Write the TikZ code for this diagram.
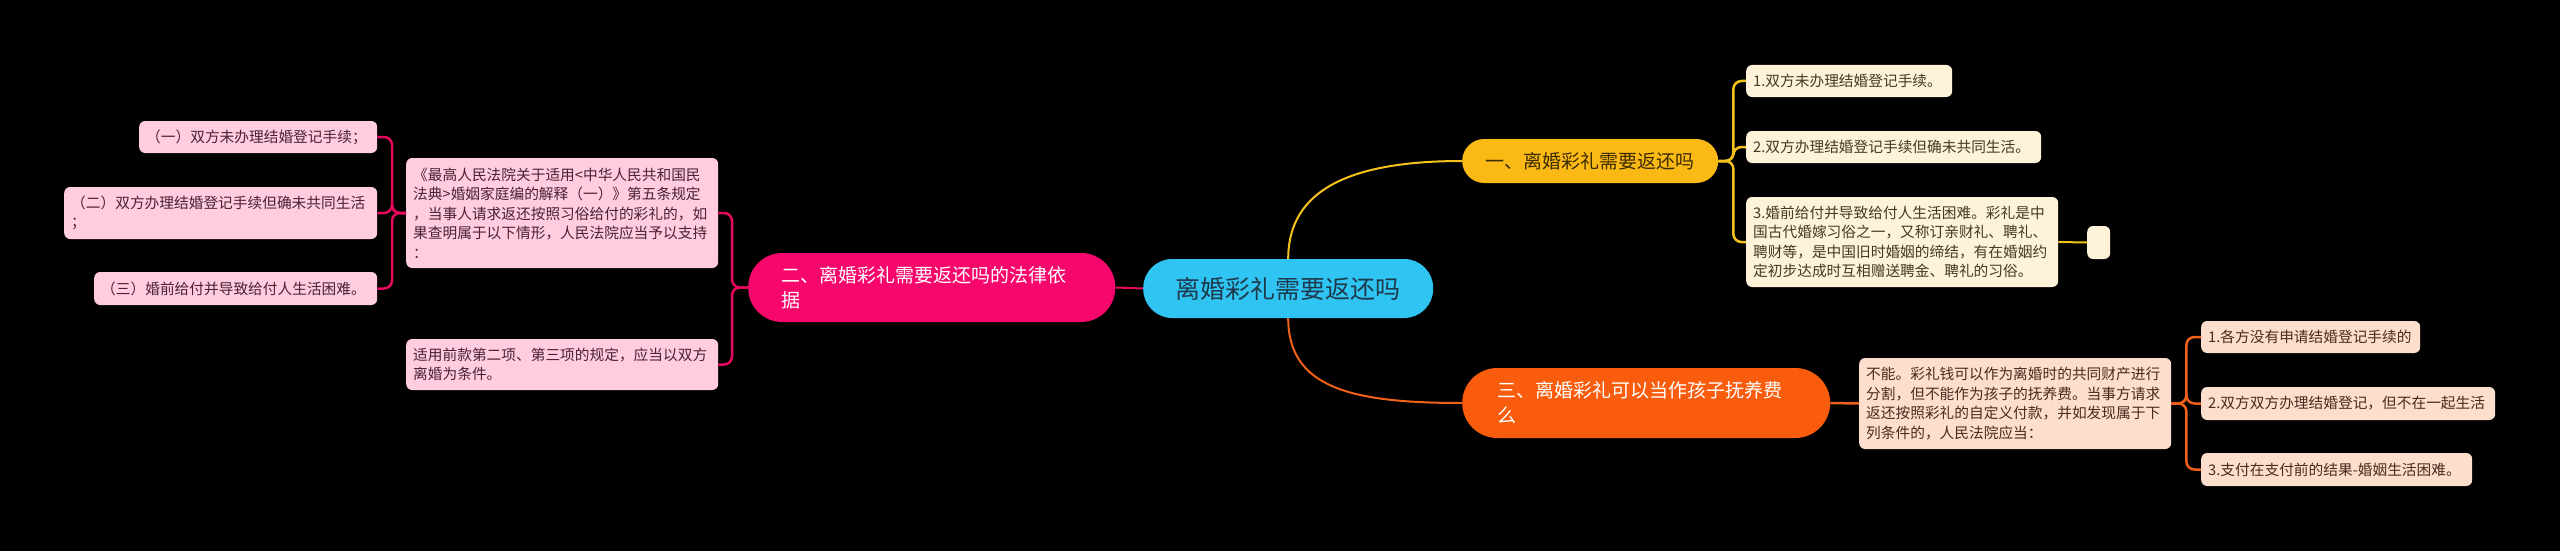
\documentclass[tikz,border=0pt]{standalone}
\usepackage{fontspec}
\setmainfont{Noto Sans CJK SC}
\usetikzlibrary{calc}

\definecolor{rootblue}{HTML}{2FC4F2}
\definecolor{rootink}{HTML}{1E3A4C}
\definecolor{gold}{HTML}{FAB915}
\definecolor{goldink}{HTML}{3D2B00}
\definecolor{goldline}{HTML}{F5C21C}
\definecolor{cream}{HTML}{FEF3D8}
\definecolor{creamink}{HTML}{45391F}
\definecolor{rose}{HTML}{F7066B}
\definecolor{roseline}{HTML}{E8095F}
\definecolor{blush}{HTML}{FFCCE0}
\definecolor{blushink}{HTML}{4A2233}
\definecolor{tangerine}{HTML}{F95C0C}
\definecolor{tangline}{HTML}{F0621A}
\definecolor{peach}{HTML}{FDDDCC}
\definecolor{peachink}{HTML}{4A2A1C}

\begin{document}
\begin{tikzpicture}[x=1pt, y=-1pt,
    leaf/.style={anchor=west, rounded corners=6pt, inner xsep=7pt, inner ysep=0pt,
        align=left, font=\fontsize{14.7}{19.5}\selectfont},
    topic/.style={anchor=west, inner ysep=0pt, align=left,
        font=\fontsize{19}{25}\selectfont},
    branch/.style={line width=2pt},
    fork/.style={line width=2.5pt, rounded corners=8pt}]
    \fill[black] (0,0) rectangle (2560,551);
    \useasboundingbox (0,0) rectangle (2560,551);

    \node[topic, fill=rootblue, text=rootink, minimum width=290pt, minimum height=59pt,
        rounded corners=29pt, align=center, font=\fontsize{25}{30}\selectfont]
        (root) at (1143,288.5) {离婚彩礼需要返还吗};

    \node[topic, fill=gold, text=goldink, minimum width=256pt, minimum height=44pt,
        rounded corners=22pt, align=center] (topicA) at (1462,161) {一、离婚彩礼需要返还吗};
    \node[topic, fill=rose, text=white, text width=301pt, inner xsep=33pt, minimum height=69pt,
        rounded corners=34pt] (topicB) at (748,287.5) {二、离婚彩礼需要返还吗的法律依\\据};
    \node[topic, fill=tangerine, text=white, text width=298pt, inner xsep=35pt, minimum height=70pt,
        rounded corners=35pt] (topicC) at (1462,403) {三、离婚彩礼可以当作孩子抚养费\\么};

    \node[leaf, fill=cream, text=creamink, text width=192pt, minimum height=32pt]
        (ansA) at (1746,81) {1.双方未办理结婚登记手续。};
    \node[leaf, fill=cream, text=creamink, text width=281pt, minimum height=32pt]
        (ansB) at (1746,147) {2.双方办理结婚登记手续但确未共同生活。};
    \node[leaf, fill=cream, text=creamink, text width=298pt, minimum height=90pt]
        (ansC) at (1746,242) {3.婚前给付并导致给付人生活困难。彩礼是中\\国古代婚嫁习俗之一，又称订亲财礼、聘礼、\\聘财等，是中国旧时婚姻的缔结，有在婚姻约\\定初步达成时互相赠送聘金、聘礼的习俗。};
    \node[leaf, fill=cream, inner xsep=0pt, minimum width=23pt, minimum height=33pt]
        (blank) at (2087,242.5) {};

    \node[leaf, fill=blush, text=blushink, text width=298pt, minimum height=110pt]
        (lawBasis) at (406,213) {《最高人民法院关于适用<中华人民共和国民\\法典>婚姻家庭编的解释（一）》第五条规定\\，当事人请求返还按照习俗给付的彩礼的，如\\果查明属于以下情形，人民法院应当予以支持\\：};
    \node[leaf, fill=blush, text=blushink, text width=298pt, minimum height=51pt]
        (lawNote) at (406,364.5) {适用前款第二项、第三项的规定，应当以双方\\离婚为条件。};
    \node[leaf, fill=blush, text=blushink, text width=224pt, minimum height=32pt]
        (lawA) at (139,137) {（一）双方未办理结婚登记手续；};
    \node[leaf, fill=blush, text=blushink, text width=299pt, minimum height=52pt]
        (lawB) at (64,213) {（二）双方办理结婚登记手续但确未共同生活\\；};
    \node[leaf, fill=blush, text=blushink, text width=269pt, minimum height=33pt]
        (lawC) at (94,288.5) {（三）婚前给付并导致给付人生活困难。};

    \node[leaf, fill=peach, text=peachink, text width=298pt, minimum height=91pt]
        (childCare) at (1859,403.5) {不能。彩礼钱可以作为离婚时的共同财产进行\\分割，但不能作为孩子的抚养费。当事方请求\\返还按照彩礼的自定义付款，并如发现属于下\\列条件的，人民法院应当：};
    \node[leaf, fill=peach, text=peachink, text width=205pt, minimum height=32pt]
        (careA) at (2201,337) {1.各方没有申请结婚登记手续的};
    \node[leaf, fill=peach, text=peachink, text width=280pt, minimum height=33pt]
        (careB) at (2201,403.5) {2.双方双方办理结婚登记，但不在一起生活};
    \node[leaf, fill=peach, text=peachink, text width=257pt, minimum height=33pt]
        (careC) at (2201,469.5) {3.支付在支付前的结果-婚姻生活困难。};

    \draw[branch, goldline] (root.north) .. controls +(0,-70) and +(-110,0) .. (topicA.west);
    \draw[branch, tangline] (root.south) .. controls +(0,70) and +(-110,0) .. (topicC.west);
    \draw[branch, roseline] (root.west) -- (topicB.east);

    \foreach \leaf in {ansA,ansB,ansC}
        \draw[fork, goldline] (topicA.east) -- ++(15,0) |- (\leaf.west);
    \draw[branch, goldline] (ansC.east) -- (blank.west);

    \foreach \leaf in {lawBasis,lawNote}
        \draw[fork, roseline] (topicB.west) -- ++(-16,0) |- (\leaf.east);
    \foreach \leaf in {lawA,lawB,lawC}
        \draw[fork, roseline] (lawBasis.west) -- ++(-14,0) |- (\leaf.east);

    \draw[fork, tangline] (topicC.east) -- (childCare.west);
    \foreach \leaf in {careA,careB,careC}
        \draw[fork, tangline] (childCare.east) -- ++(15,0) |- (\leaf.west);
\end{tikzpicture}
\end{document}
